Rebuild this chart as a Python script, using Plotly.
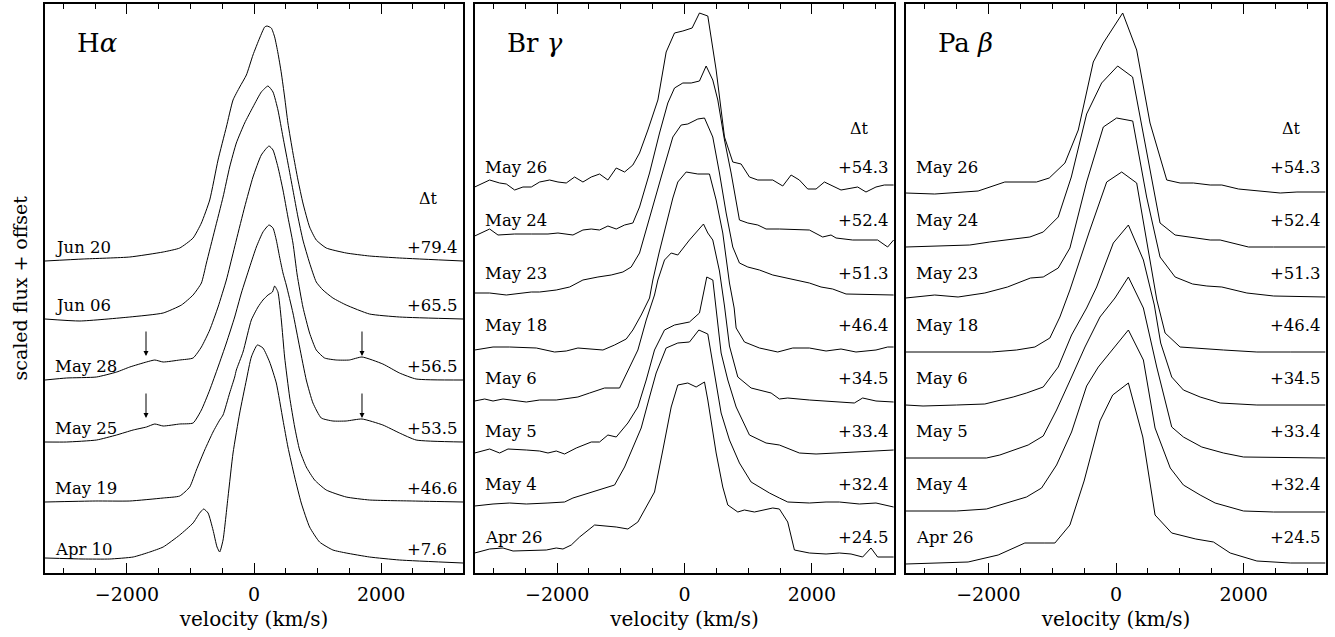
import plotly.graph_objects as go

# ---------------- H-alpha ----------------
ha_dates = ["Jun 20", "Jun 06", "May 28", "May 25", "May 19", "Apr 10"]
ha_dt = ["+79.4", "+65.5", "+56.5", "+53.5", "+46.6", "+7.6"]
ha_offsets = [3.12, 2.54, 1.93, 1.31, 0.71, 0.10]

ha_jun20_v = [-3290, -2690, -1955, -1430, -1169, -959, -828, -697, -566, -435, -330, -225, -120, -16, 89, 168, 204, 272, 325, 377, 430, 482, 534, 613, 692, 770, 875, 980, 1137, 1451, 1818, 2290, 3290]
ha_jun20_f = [0.00, 0.02, 0.04, 0.09, 0.13, 0.23, 0.38, 0.61, 1.01, 1.34, 1.61, 1.74, 1.86, 2.06, 2.23, 2.34, 2.35, 2.33, 2.24, 2.08, 1.88, 1.64, 1.38, 1.08, 0.81, 0.58, 0.34, 0.21, 0.13, 0.08, 0.05, 0.03, 0.00]

ha_jun06_v = [-3290, -2740, -1955, -1430, -1142, -959, -828, -749, -618, -487, -383, -278, -147, -16, 115, 220, 299, 377, 456, 534, 613, 692, 770, 875, 980, 1085, 1242, 1451, 1818, 2290, 3290]
ha_jun06_f = [0.00, -0.02, 0.02, 0.06, 0.14, 0.24, 0.36, 0.56, 0.89, 1.22, 1.52, 1.76, 1.96, 2.12, 2.27, 2.33, 2.27, 2.09, 1.82, 1.56, 1.29, 1.02, 0.79, 0.56, 0.37, 0.29, 0.21, 0.14, 0.05, 0.02, 0.00]

ha_may28_v = [-3290, -2950, -2480, -2160, -1955, -1693, -1562, -1430, -1169, -959, -828, -697, -566, -435, -383, -278, -147, -16, 115, 236, 299, 377, 456, 534, 613, 680, 770, 875, 980, 1111, 1294, 1500, 1700, 2028, 2290, 2552, 3290]
ha_may28_f = [0.00, 0.02, 0.03, 0.08, 0.13, 0.18, 0.20, 0.18, 0.20, 0.22, 0.33, 0.50, 0.73, 1.00, 1.13, 1.40, 1.73, 2.03, 2.25, 2.34, 2.30, 2.13, 1.90, 1.63, 1.37, 1.05, 0.73, 0.47, 0.30, 0.22, 0.20, 0.20, 0.23, 0.16, 0.07, 0.01, 0.00]

ha_may25_v = [-3290, -2950, -2478, -2164, -1902, -1693, -1562, -1430, -1169, -959, -828, -697, -566, -435, -304, -199, -68, 37, 141, 236, 299, 351, 403, 456, 508, 613, 718, 823, 928, 1059, 1242, 1451, 1700, 2028, 2290, 2552, 3290]
ha_may25_f = [0.00, 0.00, 0.02, 0.07, 0.12, 0.15, 0.18, 0.16, 0.18, 0.19, 0.32, 0.52, 0.75, 0.99, 1.25, 1.49, 1.75, 1.95, 2.10, 2.17, 2.14, 2.02, 1.85, 1.69, 1.57, 1.29, 0.95, 0.62, 0.39, 0.24, 0.21, 0.21, 0.23, 0.17, 0.09, 0.02, 0.00]

ha_may19_v = [-3290, -2500, -1955, -1430, -1169, -1012, -907, -776, -645, -540, -487, -383, -304, -278, -173, -42, 63, 141, 220, 290, 325, 377, 430, 482, 561, 640, 718, 823, 954, 1137, 1451, 1818, 2500, 3290]
ha_may19_f = [0.00, 0.01, 0.01, 0.04, 0.06, 0.15, 0.32, 0.52, 0.70, 0.82, 0.87, 1.09, 1.25, 1.32, 1.50, 1.82, 1.95, 2.02, 2.07, 2.10, 2.16, 2.10, 1.82, 1.45, 1.05, 0.75, 0.52, 0.35, 0.22, 0.12, 0.05, 0.02, 0.01, 0.00]

ha_apr10_v = [-3290, -2690, -2270, -1902, -1640, -1430, -1169, -959, -855, -792, -723, -645, -582, -540, -487, -409, -330, -225, -120, -42, 52, 141, 246, 351, 456, 534, 640, 744, 875, 1032, 1242, 1451, 1818, 2290, 3290]
ha_apr10_f = [0.05, 0.04, 0.04, 0.06, 0.11, 0.16, 0.28, 0.40, 0.50, 0.54, 0.50, 0.33, 0.16, 0.11, 0.23, 0.66, 1.10, 1.50, 1.83, 2.06, 2.18, 2.15, 2.01, 1.80, 1.43, 1.16, 0.86, 0.60, 0.36, 0.21, 0.13, 0.10, 0.06, 0.03, 0.00]

ha_arrow_v = [-1700, 1700]
ha_arrow_dates = ["May 28", "May 25"]

# ---------------- Br gamma ----------------
br_dates = ["May 26", "May 24", "May 23", "May 18", "May 6", "May 5", "May 4", "Apr 26"]
br_dt = ["+54.3", "+52.4", "+51.3", "+46.4", "+34.5", "+33.4", "+32.4", "+24.5"]
br_offsets = [3.87, 3.35, 2.79, 2.25, 1.72, 1.21, 0.66, 0.18]

br_may26_v = [-3295, -3060, -2903, -2798, -2667, -2537, -2406, -2275, -2118, -1987, -1857, -1726, -1595, -1464, -1334, -1203, -1072, -941, -811, -706, -575, -418, -288, -157, -26, 120, 235, 366, 497, 628, 758, 889, 1020, 1151, 1386, 1543, 1674, 1804, 1935, 2066, 2197, 2458, 2720, 2850, 3007, 3138, 3284]
br_may26_f = [-0.01, 0.06, 0.03, 0.02, -0.04, -0.01, -0.01, 0.04, 0.06, 0.04, 0.03, 0.09, 0.04, 0.09, 0.12, 0.06, 0.18, 0.14, 0.21, 0.33, 0.56, 0.86, 1.34, 1.53, 1.55, 1.58, 1.73, 1.70, 1.16, 0.49, 0.24, 0.22, 0.09, 0.06, 0.06, 0.00, 0.11, 0.06, -0.03, -0.03, 0.04, -0.04, -0.01, -0.06, -0.01, 0.01, 0.01]

br_may24_v = [-3295, -3060, -2929, -2667, -2406, -2144, -1987, -1752, -1595, -1464, -1334, -1203, -1072, -941, -811, -706, -549, -392, -262, -157, -26, 105, 235, 340, 444, 523, 628, 732, 863, 994, 1151, 1281, 1490, 1961, 2170, 2301, 2380, 2641, 3033, 3190, 3284]
br_may24_f = [0.02, 0.09, 0.03, 0.04, 0.04, 0.04, 0.05, 0.03, 0.08, 0.09, 0.08, 0.12, 0.09, 0.13, 0.15, 0.31, 0.65, 1.05, 1.35, 1.50, 1.55, 1.55, 1.57, 1.72, 1.58, 1.38, 0.98, 0.65, 0.18, 0.15, 0.13, 0.09, 0.09, 0.08, 0.01, 0.03, 0.00, -0.02, -0.02, -0.09, -0.02]

br_may23_v = [-3295, -3060, -2798, -2406, -2275, -2014, -1804, -1595, -1360, -1151, -967, -837, -706, -549, -366, -183, -52, 52, 209, 314, 444, 549, 654, 758, 863, 994, 1177, 1386, 1752, 1961, 2144, 2327, 2537, 3284]
br_may23_f = [0.01, 0.01, -0.01, 0.02, 0.02, 0.04, 0.07, 0.14, 0.17, 0.19, 0.22, 0.27, 0.41, 0.77, 1.17, 1.57, 1.69, 1.70, 1.75, 1.76, 1.57, 1.21, 0.81, 0.47, 0.31, 0.27, 0.24, 0.19, 0.14, 0.11, 0.07, 0.05, 0.00, -0.01]

br_may18_v = [-3295, -3007, -2746, -2327, -2040, -1857, -1674, -1490, -1281, -1098, -915, -811, -680, -549, -497, -400, -300, -183, -105, 26, 209, 392, 497, 601, 706, 780, 811, 942, 1177, 1464, 1700, 1961, 2223, 2458, 2693, 3007, 3190, 3284]
br_may18_f = [-0.02, 0.01, 0.01, 0.00, -0.04, -0.03, 0.00, -0.01, -0.02, 0.03, 0.09, 0.18, 0.33, 0.50, 0.68, 0.95, 1.20, 1.50, 1.66, 1.76, 1.74, 1.74, 1.48, 1.15, 0.65, 0.40, 0.20, 0.06, 0.00, -0.04, 0.00, 0.00, -0.03, -0.01, -0.04, -0.02, 0.01, 0.01]

br_may6_v = [-3295, -3138, -3007, -2850, -2484, -2275, -2014, -1674, -1490, -1255, -1020, -889, -732, -601, -471, -418, -314, -209, -105, 78, 298, 366, 444, 549, 628, 706, 837, 1046, 1360, 1490, 1621, 1961, 2223, 2667, 2798, 3007, 3284]
br_may6_f = [0.00, 0.02, 0.00, 0.02, -0.01, 0.01, 0.01, 0.04, 0.08, 0.13, 0.13, 0.31, 0.51, 0.81, 1.06, 1.21, 1.41, 1.48, 1.46, 1.61, 1.77, 1.68, 1.61, 1.30, 0.95, 0.55, 0.24, 0.13, 0.08, 0.02, 0.03, 0.01, 0.00, -0.02, 0.03, 0.00, -0.01]

br_may5_v = [-3295, -3060, -2903, -2772, -2484, -2275, -2144, -2014, -1883, -1700, -1464, -1334, -1203, -1072, -889, -732, -601, -471, -314, -157, 78, 235, 350, 445, 575, 680, 811, 1020, 1281, 1490, 1804, 2066, 2380, 2746, 3060, 3284]
br_may5_f = [-0.01, 0.03, -0.01, 0.03, 0.02, 0.01, -0.01, 0.01, -0.02, 0.04, 0.10, 0.10, 0.17, 0.15, 0.29, 0.45, 0.72, 1.02, 1.22, 1.27, 1.30, 1.39, 1.75, 1.72, 0.99, 0.72, 0.45, 0.17, 0.09, 0.07, -0.01, -0.02, -0.01, 0.00, 0.01, 0.02]

br_may4_v = [-3295, -3007, -2746, -2484, -2144, -1883, -1752, -1490, -1334, -1098, -941, -811, -680, -549, -445, -288, -105, 78, 225, 366, 471, 575, 706, 863, 1046, 1334, 1490, 1621, 1961, 2223, 2432, 2746, 3007, 3284]
br_may4_f = [0.01, 0.03, 0.04, 0.03, 0.04, 0.05, 0.09, 0.14, 0.17, 0.22, 0.40, 0.60, 0.79, 1.10, 1.34, 1.59, 1.64, 1.65, 1.77, 1.73, 1.34, 0.94, 0.67, 0.44, 0.25, 0.14, 0.09, 0.05, 0.04, 0.05, 0.05, 0.03, 0.04, 0.00]

br_apr26_v = [-3295, -3060, -2850, -2693, -2170, -2014, -1909, -1778, -1647, -1412, -1072, -889, -732, -471, -340, -209, -105, 52, 183, 314, 366, 497, 601, 680, 837, 941, 1098, 1386, 1490, 1621, 1726, 1961, 2223, 2432, 2615, 2798, 2929, 3033, 3284]
br_apr26_f = [0.02, 0.06, 0.07, 0.04, 0.05, 0.07, 0.06, 0.10, 0.18, 0.30, 0.28, 0.26, 0.33, 0.63, 1.05, 1.48, 1.70, 1.72, 1.68, 1.73, 1.55, 1.02, 0.68, 0.50, 0.43, 0.45, 0.43, 0.47, 0.46, 0.33, 0.05, 0.02, 0.01, 0.02, 0.01, -0.02, 0.07, -0.02, -0.02]

# ---------------- Pa beta ----------------
pa_dates = br_dates
pa_dt = br_dt
pa_offsets = [3.81, 3.26, 2.76, 2.21, 1.68, 1.15, 0.61, 0.10]

pa_may26_v = [-3295, -2840, -2160, -1977, -1742, -1245, -1046, -800, -591, -356, -199, 105, 324, 533, 795, 1004, 1213, 1475, 1658, 1919, 2259, 2573, 2835, 3279]
pa_may26_f = [-0.01, -0.02, 0.01, 0.05, 0.10, 0.10, 0.14, 0.29, 0.62, 1.30, 1.49, 1.79, 1.42, 0.69, 0.12, 0.09, 0.09, 0.07, 0.07, 0.03, 0.01, -0.01, 0.00, 0.00]

pa_may24_v = [-3295, -2500, -2291, -1977, -1349, -1140, -905, -700, -460, -225, 26, 260, 470, 690, 926, 1475, 1632, 2076, 2469, 3279]
pa_may24_f = [0.00, 0.01, 0.02, 0.05, 0.10, 0.15, 0.30, 0.70, 1.33, 1.64, 1.81, 1.70, 0.97, 0.24, 0.12, 0.07, 0.07, 0.00, 0.00, 0.00]

pa_may23_v = [-3295, -2840, -2474, -2055, -1700, -1340, -1140, -905, -722, -460, -199, 10, 262, 480, 690, 926, 1200, 1423, 1658, 2050, 2469, 3279]
pa_may23_f = [-0.01, 0.02, 0.00, 0.04, 0.10, 0.19, 0.20, 0.29, 0.49, 1.15, 1.70, 1.79, 1.76, 1.00, 0.40, 0.20, 0.13, 0.11, 0.10, 0.04, 0.01, 0.00]

pa_may18_v = [-3295, -2500, -1951, -1559, -1271, -1036, -879, -722, -420, -146, 89, 324, 480, 640, 769, 1004, 1684, 2207, 2730, 3279]
pa_may18_f = [0.00, 0.00, 0.00, 0.02, 0.05, 0.14, 0.35, 0.62, 1.20, 1.70, 1.80, 1.69, 1.10, 0.52, 0.19, 0.05, 0.02, 0.00, 0.00, 0.00]

pa_may6_v = [-3295, -3023, -2500, -2055, -1611, -1402, -1140, -905, -696, -460, -303, -42, 194, 429, 600, 700, 873, 1056, 1318, 1632, 2207, 3279]
pa_may6_f = [0.00, -0.01, 0.00, 0.01, 0.08, 0.12, 0.18, 0.38, 0.70, 0.97, 1.18, 1.62, 1.80, 1.45, 1.00, 0.62, 0.28, 0.15, 0.08, 0.02, 0.00, 0.00]

pa_may5_v = [-3295, -2029, -1820, -1611, -1376, -1140, -931, -696, -486, -251, -16, 194, 429, 638, 873, 1056, 1344, 1684, 1998, 3279]
pa_may5_f = [0.00, 0.00, 0.03, 0.08, 0.13, 0.22, 0.48, 0.81, 1.11, 1.41, 1.60, 1.81, 1.50, 0.91, 0.31, 0.21, 0.11, 0.05, 0.01, 0.00]

pa_may4_v = [-3295, -2500, -2029, -1820, -1585, -1402, -1166, -931, -696, -460, -277, -42, 194, 429, 612, 850, 1056, 1318, 1553, 1998, 2469, 3279]
pa_may4_f = [0.01, 0.01, 0.03, 0.07, 0.12, 0.15, 0.24, 0.47, 0.80, 1.26, 1.45, 1.64, 1.82, 1.52, 0.84, 0.44, 0.27, 0.17, 0.09, 0.01, 0.00, 0.00]

pa_apr26_v = [-3295, -2866, -2317, -1846, -1428, -1114, -957, -722, -500, -251, -52, 194, 420, 612, 873, 1250, 1527, 1789, 2207, 2730, 3279]
pa_apr26_f = [-0.01, 0.00, 0.01, 0.08, 0.20, 0.20, 0.20, 0.38, 0.82, 1.42, 1.68, 1.80, 1.26, 0.48, 0.30, 0.24, 0.21, 0.10, 0.02, 0.00, 0.00]

panel_titles = ["H<i>α</i>", "Br <i>γ</i>", "Pa <i>β</i>"]
x_ticks = [-2000, 0, 2000]

ha_spectra = [(ha_jun20_v, ha_jun20_f), (ha_jun06_v, ha_jun06_f), (ha_may28_v, ha_may28_f),
              (ha_may25_v, ha_may25_f), (ha_may19_v, ha_may19_f), (ha_apr10_v, ha_apr10_f)]
br_spectra = [(br_may26_v, br_may26_f), (br_may24_v, br_may24_f), (br_may23_v, br_may23_f),
              (br_may18_v, br_may18_f), (br_may6_v, br_may6_f), (br_may5_v, br_may5_f),
              (br_may4_v, br_may4_f), (br_apr26_v, br_apr26_f)]
pa_spectra = [(pa_may26_v, pa_may26_f), (pa_may24_v, pa_may24_f), (pa_may23_v, pa_may23_f),
              (pa_may18_v, pa_may18_f), (pa_may6_v, pa_may6_f), (pa_may5_v, pa_may5_f),
              (pa_may4_v, pa_may4_f), (pa_apr26_v, pa_apr26_f)]

# ---------------- figure ----------------
W, H = 1335, 637
FONT = "DejaVu Serif"
fig = go.Figure()

def px_x(p):
    return p / W

def px_y(p):
    return 1 - p / H

x_domains = [[px_x(45), px_x(463)], [px_x(475), px_x(894)], [px_x(906), px_x(1326)]]
y_domain = [px_y(573), px_y(4)]
XR = [-3290, 3290]
YR = [0, 5.69]

panels = [
    (ha_spectra, ha_offsets, ha_dates, ha_dt, True),
    (br_spectra, br_offsets, br_dates, br_dt, False),
    (pa_spectra, pa_offsets, pa_dates, pa_dt, False),
]

annotations = []
for i, (spectra, offsets, dates, dts, smooth) in enumerate(panels):
    xa = "x" if i == 0 else f"x{i+1}"
    ya = "y" if i == 0 else f"y{i+1}"
    for (v, f), off in zip(spectra, offsets):
        fig.add_trace(go.Scatter(
            x=v, y=[off + val for val in f], mode="lines",
            line=dict(color="black", width=1, shape="spline" if smooth else "linear",
                      smoothing=0.5 if smooth else None),
            xaxis=xa, yaxis=ya, showlegend=False, hoverinfo="skip"))
    # labels
    for k, (d, t) in enumerate(zip(dates, dts)):
        if i == 0:
            ly = offsets[k] + 0.14
        else:
            ly = 0.36 + 0.528 * (len(dates) - 1 - k)
        annotations.append(dict(x=-3170, y=ly, xref=xa, yref=ya, text=d, showarrow=False,
                                xanchor="left", yanchor="middle",
                                font=dict(family=FONT, size=16.5, color="black")))
        annotations.append(dict(x=2380, y=ly, xref=xa, yref=ya, text=t, showarrow=False,
                                xanchor="left", yanchor="middle",
                                font=dict(family=FONT, size=16.5, color="black")))
    dty = 3.75 if i == 0 else 4.45
    annotations.append(dict(x=2747, y=dty, xref=xa, yref=ya, text="Δt", showarrow=False,
                            xanchor="center", yanchor="middle",
                            font=dict(family=FONT, size=16, color="black")))
    annotations.append(dict(x=-2815, y=5.30, xref=xa, yref=ya, text=panel_titles[i], showarrow=False,
                            xanchor="left", yanchor="middle",
                            font=dict(family=FONT, size=26, color="black")))

    axis_common = dict(showline=True, linecolor="black", linewidth=1.5, mirror="ticks",
                       showgrid=False, zeroline=False)
    fig.layout[("xaxis" if i == 0 else f"xaxis{i+1}")] = dict(
        domain=x_domains[i], range=XR, anchor=ya, tickvals=x_ticks,
        ticks="inside", ticklen=10, tickwidth=1, tickcolor="black", ticklabelstandoff=3,
        minor=dict(dtick=500, tick0=0, ticks="inside", ticklen=5, tickwidth=1, tickcolor="black"),
        tickfont=dict(family=FONT, size=19, color="black"),
        title=dict(text="velocity (km/s)", font=dict(family=FONT, size=20, color="black"), standoff=8),
        **axis_common)
    fig.layout[("yaxis" if i == 0 else f"yaxis{i+1}")] = dict(
        domain=y_domain, range=YR, anchor=xa, showticklabels=False, ticks="",
        **axis_common)

# arrows on H-alpha (May 28 and May 25)
for d in ha_arrow_dates:
    off = ha_offsets[ha_dates.index(d)]
    for av in ha_arrow_v:
        annotations.append(dict(x=av, y=off + 0.24, ax=av, ay=off + 0.50, xref="x", yref="y",
                                axref="x", ayref="y", showarrow=True, arrowhead=2, arrowsize=1,
                                arrowwidth=1, arrowcolor="black", text=""))

annotations.append(dict(x=px_x(19), y=(y_domain[0] + y_domain[1]) / 2, xref="paper", yref="paper",
                        text="scaled flux + offset", textangle=-90, showarrow=False,
                        xanchor="center", yanchor="middle",
                        font=dict(family=FONT, size=19, color="black")))

fig.update_layout(width=W, height=H, margin=dict(l=0, r=0, t=0, b=0),
                  paper_bgcolor="white", plot_bgcolor="white", annotations=annotations)

fig.write_html("out.html")
